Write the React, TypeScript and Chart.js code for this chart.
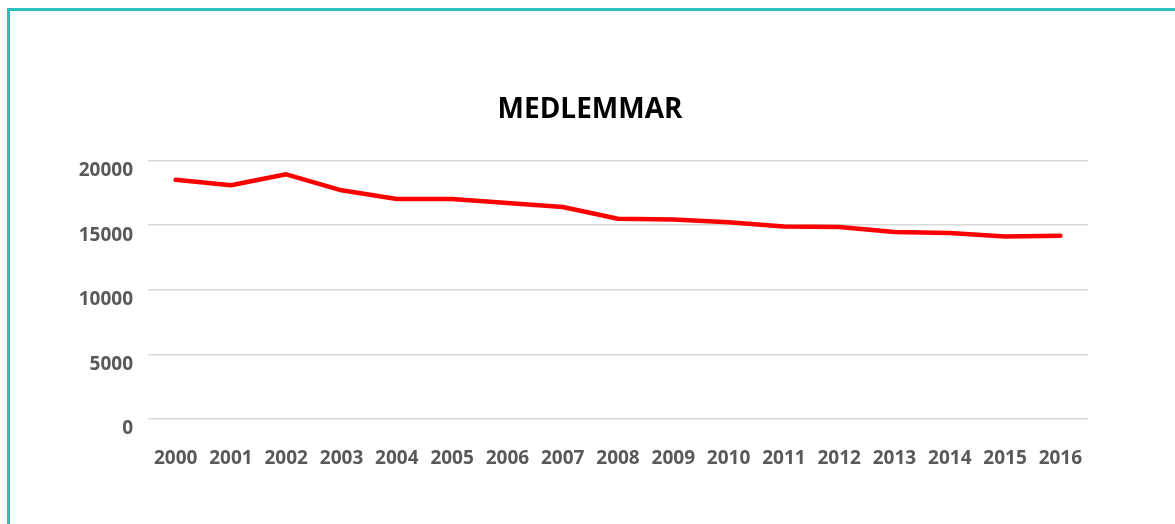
import React, { useEffect, useRef } from "react";
import { Chart, registerables } from "chart.js";

Chart.register(...registerables);

const years: string[] = [
  "2000", "2001", "2002", "2003", "2004", "2005", "2006", "2007", "2008",
  "2009", "2010", "2011", "2012", "2013", "2014", "2015", "2016",
];
const members: number[] = [
  18510, 18090, 18940, 17700, 17030, 17020, 16720, 16410, 15500,
  15450, 15220, 14900, 14860, 14470, 14390, 14130, 14180,
];
const yTicks: number[] = [0, 5000, 10000, 15000, 20000];
const titleText = "MEDLEMMAR";

export default function App() {
  const ref = useRef<HTMLCanvasElement | null>(null);

  useEffect(() => {
    document.body.style.overflow = "hidden";
    const canvas = ref.current;
    if (!canvas) return;
    const font = "'Open Sans', 'DejaVu Sans', sans-serif";
    const chart = new Chart(canvas, {
      type: "line",
      data: {
        labels: years,
        datasets: [
          {
            label: titleText,
            data: members,
            borderColor: "#ff0000",
            backgroundColor: "#ff0000",
            borderWidth: 4.5,
            pointRadius: 0,
            pointHoverRadius: 0,
            tension: 0,
            borderCapStyle: "round",
            borderJoinStyle: "round",
            yAxisID: "y",
          },
        ],
      },
      options: {
        responsive: false,
        animation: false,
        layout: { padding: { left: 5, right: 0, top: 0, bottom: 0 } },
        plugins: {
          legend: { display: false },
          tooltip: { enabled: false },
          title: {
            display: true,
            text: titleText,
            color: "#000000",
            font: { family: font, size: 28, weight: "bold", lineHeight: 1.2 },
            padding: { top: 93, bottom: 34 },
          },
        },
        scales: {
          x: {
            type: "category",
            offset: true,
            grid: { display: false, drawTicks: false },
            border: { display: false },
            ticks: {
              color: "#595959",
              font: { family: font, size: 19, weight: "bold", lineHeight: 1.2 },
              padding: 28,
              maxRotation: 0,
              autoSkip: false,
            },
            afterFit: (scale: any) => {
              scale.height = 105;
            },
          },
          y: {
            position: "left",
            min: 0,
            max: 20000,
            afterBuildTicks: (scale: any) => {
              scale.ticks = yTicks.map((v) => ({ value: v }));
            },
            grid: { color: "#d9d9d9", lineWidth: 1.5, drawTicks: false },
            border: { display: false },
            ticks: {
              color: "#595959",
              font: { family: font, size: 19, weight: "bold", lineHeight: 1.2 },
              padding: 15,
              labelOffset: 10,
              callback: (v: any) => String(v),
            },
            afterFit: (scale: any) => {
              scale.width = 143;
            },
          },
          yRight: {
            position: "right",
            display: true,
            min: 0,
            max: 1,
            grid: { display: false, drawTicks: false },
            border: { display: false },
            ticks: { display: false },
            afterFit: (scale: any) => {
              scale.width = 87;
            },
          },
        },
      },
    });
    return () => chart.destroy();
  }, []);

  return (
    <div>
      <div
        style={{
          position: "fixed",
          left: 7,
          top: 8,
          width: 1300,
          height: 700,
          borderLeft: "3px solid #2bbfbf",
          borderTop: "3px solid #2bbfbf",
          boxSizing: "border-box",
        }}
      />
      <canvas
        ref={ref}
        width={1175}
        height={524}
        style={{ position: "fixed", left: 0, top: 0, width: 1175, height: 524 }}
      />
    </div>
  );
}
